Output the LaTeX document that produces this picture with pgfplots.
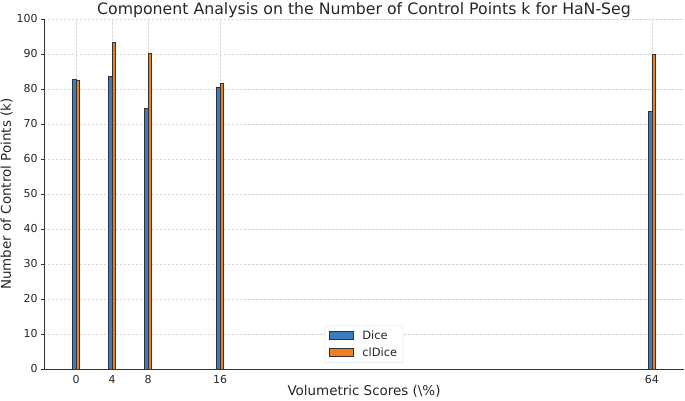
\documentclass[border=0pt]{standalone}
\usepackage{pgfplots}
\pgfplotsset{compat=1.18}
\usepackage{fontspec}
\setmainfont{DejaVu Sans}
\definecolor{diceblue}{RGB}{58,124,190}
\definecolor{cldorange}{RGB}{240,127,32}
\definecolor{txt}{RGB}{38,38,38}
\begin{document}
\begin{tikzpicture}
\begin{axis}[
    name=ax,
    scale only axis,
    width=640bp, height=350bp,
    xmin=-3.56, xmax=67.56,
    ymin=0, ymax=100,
    axis lines=left,
    axis line style={-, draw=black!80, line width=0.8pt},
    xtick={0,4,8,16,64},
    ytick={0,10,...,100},
    xtick style={draw=none},
    ytick style={draw=black!80, line width=0.8pt},
    tick align=outside,
    major tick length=3bp,
    grid=major,
    grid style={dash pattern=on 2.5bp off 1.5bp, black!15, line width=0.5pt},
    tick label style={font=\fontsize{11}{13}\selectfont, text=txt},
    /pgf/number format/assume math mode=true,
    title={Component Analysis on the Number of Control Points k for HaN-Seg},
    title style={font=\fontsize{15.8}{18}\selectfont, text=txt,
        at={(0.5,1)}, anchor=base, yshift=-1bp},
    xlabel={Volumetric Scores (\textbackslash\%)},
    ylabel={Number of Control Points (k)},
    label style={font=\fontsize{13.5}{15}\selectfont, text=txt},
    xlabel style={at={(0.5,0)}, anchor=base, yshift=-27bp},
    ylabel style={yshift=-3bp},
    ybar, bar width=0.4,
    legend style={at={(0.5,0.017)}, anchor=south, draw=black!15, rounded corners=2pt,
        fill=white, font=\fontsize{11.5}{13}\selectfont, text=txt,
        inner xsep=4bp, inner ysep=3bp, row sep=3bp},
    legend cell align=left,
    legend image code/.code={\draw[#1, sharp corners] (0bp,-3.5bp) rectangle (24bp,4.5bp);
        \path (31bp,0bp);},
]
\addplot[fill=diceblue, draw=black!80, line width=0.5pt, bar shift=-0.2] coordinates {
    (0,82.8) (4,83.6) (8,74.5) (16,80.6) (64,73.7)
};
\addplot[fill=cldorange, draw=black!80, line width=0.5pt, bar shift=0.2] coordinates {
    (0,82.5) (4,93.3) (8,90.2) (16,81.7) (64,89.9)
};
\legend{Dice, clDice}
\end{axis}
\pgfresetboundingbox
\path[use as bounding box] ([shift={(-44bp,-32bp)}]ax.south west) rectangle ([shift={(1bp,19bp)}]ax.north east);
\end{tikzpicture}
\end{document}
